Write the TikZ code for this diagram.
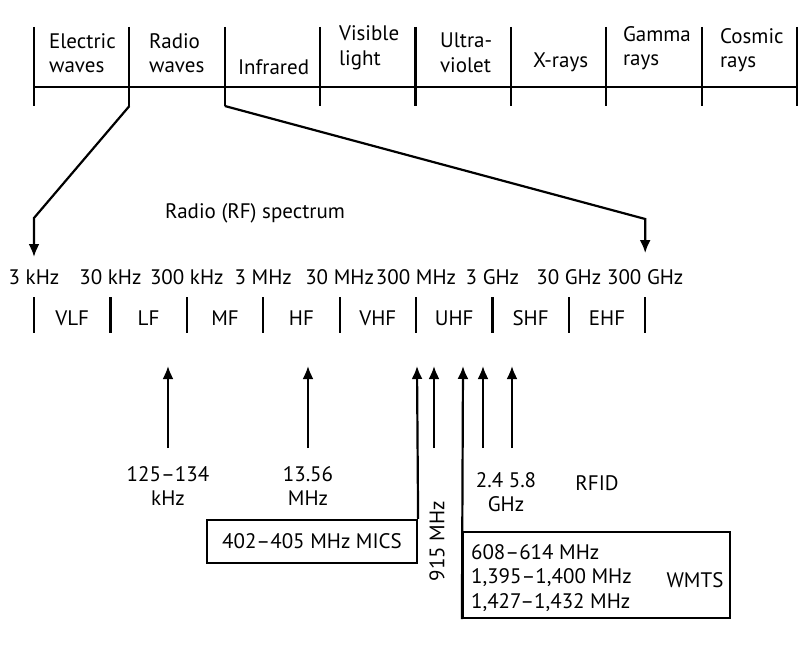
\documentclass[tikz,border=0pt]{standalone}
\usepackage{fontspec}
\setmainfont{PT Sans}
\usetikzlibrary{arrows.meta}
\tikzset{
  txt/.style={font=\fontsize{21}{24.5}\selectfont,inner sep=1pt},
  tip/.style={-{Latex[length=13pt,width=11pt]}},
  bandbox/.style={draw,txt,inner sep=0pt}
}
\begin{document}
\begin{tikzpicture}[x=1pt,y=-1pt,line width=2.2pt]
  \useasboundingbox (0,0) rectangle (801,650);
  % electromagnetic spectrum
  \draw (34,87)--(797,87);
  \foreach \i in {0,...,8}
    \draw (34+95.375*\i,27)--(34+95.375*\i,106);
  \node[txt,anchor=west,align=left] (elec) at (47,53) {Electric\\waves};
  \node[txt,anchor=west,align=left] (radio) at (147,53) {Radio\\waves};
  \node[txt,anchor=west] (ir) at (236,67) {Infrared};
  \node[txt,anchor=west,align=left] (vis) at (337,48) {Visible\\light};
  \node[txt,anchor=west,align=left] (uv) at (438,53) {Ultra-\\violet};
  \node[txt,anchor=west] (xray) at (531,62) {X-rays};
  \node[txt,anchor=west,align=left] (gamma) at (621,48) {Gamma\\rays};
  \node[txt,anchor=west,align=left] (cosmic) at (718,50) {Cosmic\\rays};
  \coordinate (rw) at (129.4,106);
  \coordinate (irw) at (224.8,106);
  \coordinate (bendL) at (34,218);
  \coordinate (bendR) at (645.2,219);
  \coordinate (tipL) at (34,257);
  \coordinate (tipR) at (645.2,253);
  \draw[tip] (rw)--(bendL)--(tipL);
  \draw[tip] (irw)--(bendR)--(tipR);
  \node[txt] (rfspec) at (255,213) {Radio (RF) spectrum};
  % radio bands
  \foreach \f [count=\j from 0] in {3 kHz,30 kHz,300 kHz,3 MHz,30 MHz,300 MHz,3 GHz,30 GHz,300 GHz}{
    \node[txt] (f\j) at (34+76.4*\j,277) {\f};
    \draw (34+76.4*\j,297)--(34+76.4*\j,333);
  }
  \foreach \b [count=\j from 0] in {VLF,LF,MF,HF,VHF,UHF,SHF,EHF}
    \node[txt] (b\j) at (72.2+76.4*\j,318) {\b};
  % applications
  \node[txt,align=center] (lfid) at (168,486) {125--134\\kHz};
  \node[txt,align=center] (hfid) at (308,486) {13.56\\MHz};
  \node[txt,rotate=90] (uhfid) at (437,541) {915 MHz};
  \node[txt,align=center] (mwid) at (506,492) {2.4 5.8\\GHz};
  \node[txt] (rfid) at (597,483) {RFID};
  \node[bandbox,minimum width=210pt,minimum height=43pt] (mics) at (312,541.5) {402--405 MHz MICS};
  \node[bandbox,minimum width=267pt,minimum height=86pt] (wmts) at (596.5,575) {};
  \node[txt,anchor=west,align=left] (wmtsf) at (469,578) {608--614 MHz\\1,395--1,400 MHz\\1,427--1,432 MHz};
  \node[txt] (wmtsl) at (695,580) {WMTS};
  \foreach \n/\x in {a/168,b/308,c/434,d/483,e/512}{
    \coordinate (base\n) at (\x,448);
    \coordinate (top\n) at (\x,366);
  }
  \coordinate (topm) at (417,366);
  \coordinate (topw) at (463,366);
  \foreach \n in {a,b,c,d,e}
    \draw[tip] (base\n)--(top\n);
  \draw[tip] (mics.north east)--(topm);
  \draw[tip] (wmts.south west)--(topw);
\end{tikzpicture}
\end{document}
